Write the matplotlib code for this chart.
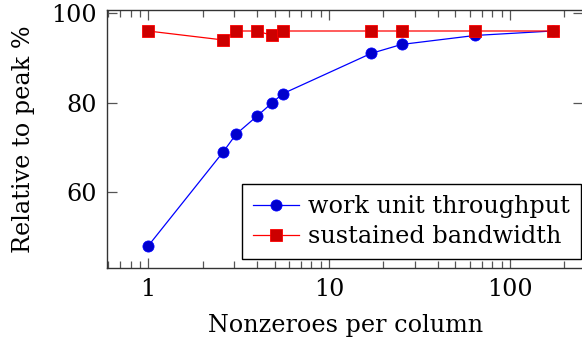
import matplotlib
matplotlib.use("Agg")
from matplotlib import pyplot as plt
from matplotlib.ticker import LogLocator, NullFormatter, FixedLocator
import numpy as np

# nonzeroes per column for each matrix, and measured efficiency
nnz_per_col = [1, 2.6, 3.07, 4, 4.86, 5.55, 17.1, 25.2, 64, 172]
work_unit = [48, 69, 73, 77, 80, 82, 91, 93, 95, 96]
bandwidth = [96, 94, 96, 96, 95, 96, 96, 96, 96, 96]

plt.rcParams["font.family"] = "DejaVu Serif"
plt.rcParams["font.size"] = 17.2

fig = plt.figure(figsize=(5.82, 3.42), dpi=100)
ax = fig.add_axes([0.1838, 0.2155, 0.8182, 0.7565])

ax.plot(nnz_per_col, work_unit, "-o", color="blue", lw=0.9,
        markersize=8, markerfacecolor="#0000cc", markeredgecolor="blue",
        markeredgewidth=0.6, label="work unit throughput", zorder=3)
ax.plot(nnz_per_col, bandwidth, "-s", color="red", lw=0.9,
        markersize=8.2, markerfacecolor="#cc0000", markeredgecolor="red",
        markeredgewidth=0.6, label="sustained bandwidth", zorder=4)

ax.set_xscale("log")
ax.set_xlim(0.593, 254)
ax.set_ylim(43.05, 100.78)
ax.xaxis.set_major_locator(FixedLocator([1, 10, 100]))
ax.set_xticklabels(["1", "10", "100"])
ax.xaxis.set_minor_locator(LogLocator(base=10, subs=np.arange(2, 10)))
ax.xaxis.set_minor_formatter(NullFormatter())
ax.set_yticks([60, 80, 100])

ax.tick_params(which="both", direction="in", top=True, right=True,
               color="#555555", width=0.9)
ax.tick_params(which="major", length=7.5, pad=7)
ax.tick_params(which="minor", length=5)
for s in ax.spines.values():
    s.set_linewidth(1.0)
    s.set_color("#333333")

ax.set_xlabel("Nonzeroes per column", labelpad=9)
ax.set_ylabel("Relative to peak %", labelpad=12)

leg = ax.legend(loc="lower right", fancybox=False, framealpha=1,
                edgecolor="black", borderpad=0.45, handlelength=1.9,
                handletextpad=0.4, labelspacing=0.3, borderaxespad=0,
                bbox_to_anchor=(0.995, 0.036))
leg.get_frame().set_linewidth(1.0)

fig.savefig("out.png", dpi=100)
